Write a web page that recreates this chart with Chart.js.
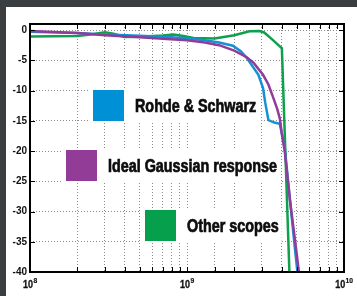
<!DOCTYPE html>
<html><head><meta charset="utf-8">
<script src="https://cdn.jsdelivr.net/npm/chart.js@4.4.1/dist/chart.umd.min.js"></script>
<style>
html,body{margin:0;padding:0;background:#3b3e41;overflow:hidden;}
canvas{display:block;}
</style></head><body>
<canvas id="c" width="357" height="296"></canvas>
<script>
// ---- data (frequency in Hz, response in dB) ----
const seriesNames = ['Rohde & Schwarz', 'Ideal Gaussian response', 'Other scopes'];

const rsFreq = [1e8, 2e8, 3e8, 5e8, 7e8, 1e9, 1.3e9, 1.6e9, 1.96e9, 2.2e9, 2.4e9, 2.85e9, 3.05e9, 3.15e9, 3.3e9, 3.6e9, 3.9e9, 4.2e9, 4.53e9, 4.88e9, 5.06e9];
const rsDb   = [-0.3, -0.5, -0.75, -0.95, -1.1, -1.35, -1.7, -2.05, -2.6, -3.5, -4.6, -7.4, -9.6, -12.0, -14.9, -15.3, -15.5, -19.6, -28.1, -36.4, -40.2];

const gaussFreq = [1e8, 2e8, 3e8, 5e8, 7e8, 1e9, 1.3e9, 1.6e9, 2.0e9, 2.4e9, 2.65e9, 3.05e9, 3.3e9, 3.5e9, 3.75e9, 3.9e9, 4.01e9, 4.2e9, 4.53e9, 4.88e9, 5.18e9];
const gaussDb   = [-0.15, -0.5, -0.85, -1.2, -1.45, -1.7, -2.05, -2.5, -3.4, -4.5, -5.4, -7.4, -9.0, -10.8, -13.0, -14.6, -17.0, -20.2, -28.2, -34.8, -40.3];

const otherFreq = [1e8, 2e8, 2.5e8, 3e8, 3.4e8, 4e8, 5e8, 7e8, 8.2e8, 9.5e8, 1.1e9, 1.5e9, 2.0e9, 2.5e9, 2.9e9, 3.1e9, 3.4e9, 3.9e9, 4.02e9, 4.49e9];
const otherDb   = [-1.05, -1.0, -0.7, -0.35, -0.6, -1.15, -1.1, -0.9, -0.75, -1.0, -1.3, -1.4, -0.85, -0.2, -0.15, -0.4, -1.3, -2.7, -3.0, -40];

const xTickValues = [1e8, 1e9, 1e10];
const xTickBase = '10';
const xTickExponents = ['8', '9', '10'];
const yTickValues = [-40, -35, -30, -25, -20, -15, -10, -5, 0];

// ---- styles / layout ----
const colors = ['#1591d4', '#923c99', '#0ea04d'];
const swatchColors = ['#0090d5', '#933c97', '#06a04c'];
const legendPos = [{x: 93, y: 90}, {x: 66, y: 150}, {x: 145, y: 210}];
const FONT = '"Liberation Sans", Arial, Helvetica, sans-serif';
const NARROW = 0.82;

function pts(f, d) { return f.map((v, i) => ({x: v, y: d[i]})); }

function narrowText(ctx, text, x, y, sx, stroke) {
  ctx.save();
  ctx.translate(x, y);
  ctx.scale(sx, 1);
  ctx.fillText(text, 0, 0);
  if (stroke) { ctx.lineWidth = stroke; ctx.strokeText(text, 0, 0); }
  ctx.restore();
}

const bgPlugin = {
  id: 'bg',
  beforeDraw(chart) {
    const ctx = chart.ctx;
    ctx.save();
    ctx.fillStyle = '#3b3e41';
    ctx.fillRect(0, 0, chart.width, chart.height);
    ctx.fillStyle = '#ffffff';
    ctx.fillRect(6, 7, chart.width - 6, chart.height - 7);
    ctx.restore();
  }
};

const legendPlugin = {
  id: 'boxLegend',
  beforeDatasetsDraw(chart) {
    const ctx = chart.ctx;
    ctx.save();
    ctx.font = 'bold 17.5px ' + FONT;
    ctx.textBaseline = 'alphabetic';
    ctx.textAlign = 'left';
    chart.data.datasets.forEach((ds, i) => {
      const p = legendPos[i];
      const tw = ctx.measureText(ds.label).width * NARROW;
      ctx.fillStyle = '#ffffff';
      ctx.fillRect(p.x - 5, p.y - 1, 42 + tw + 8, 33);
      ctx.fillStyle = swatchColors[i];
      ctx.fillRect(p.x, p.y, 31, 31);
      ctx.fillStyle = '#0d0d0d';
      ctx.strokeStyle = '#0d0d0d';
      narrowText(ctx, ds.label, p.x + 42, p.y + 21.5, NARROW, 0.7);
    });
    ctx.restore();
  }
};

const framePlugin = {
  id: 'frame',
  afterDatasetsDraw(chart) {
    const ctx = chart.ctx;
    const {left, right, top, bottom} = chart.chartArea;
    const xs = chart.scales.x, ys = chart.scales.y;
    ctx.save();
    ctx.strokeStyle = '#000';
    ctx.lineWidth = 1;
    ctx.beginPath();
    xs.ticks.forEach(t => {
      const px = Math.round(xs.getPixelForValue(t.value)) + 0.5;
      ctx.moveTo(px, bottom); ctx.lineTo(px, bottom - 5);
      ctx.moveTo(px, top); ctx.lineTo(px, top + 5);
    });
    ys.ticks.forEach(t => {
      const py = Math.round(ys.getPixelForValue(t.value)) + 0.5;
      ctx.moveTo(left, py); ctx.lineTo(left + 5, py);
      ctx.moveTo(right, py); ctx.lineTo(right - 5, py);
    });
    ctx.stroke();
    ctx.lineWidth = 2;
    ctx.strokeRect(left, top, right - left, bottom - top);

    // x tick labels: "10" with raised exponent
    ctx.fillStyle = '#111';
    ctx.strokeStyle = '#111';
    ctx.textBaseline = 'alphabetic';
    ctx.textAlign = 'left';
    const sx = 0.9;
    xTickValues.forEach((v, i) => {
      const px = xs.getPixelForValue(v);
      ctx.font = 'bold 10px ' + FONT;
      const w1 = ctx.measureText(xTickBase).width * sx;
      ctx.font = 'bold 7.5px ' + FONT;
      const w2 = ctx.measureText(xTickExponents[i]).width * sx;
      const x0 = px - (w1 + w2) / 2;
      ctx.font = 'bold 10px ' + FONT;
      narrowText(ctx, xTickBase, x0, bottom + 16, sx, 0.3);
      ctx.font = 'bold 7.5px ' + FONT;
      narrowText(ctx, xTickExponents[i], x0 + w1 + 0.3, bottom + 11, sx, 0.2);
    });
    ctx.restore();
  }
};

new Chart(document.getElementById('c'), {
  type: 'line',
  data: {
    datasets: [
      {label: seriesNames[0], data: pts(rsFreq, rsDb), borderColor: colors[0], order: 1},
      {label: seriesNames[1], data: pts(gaussFreq, gaussDb), borderColor: colors[1], order: 0},
      {label: seriesNames[2], data: pts(otherFreq, otherDb), borderColor: colors[2], order: 2}
    ]
  },
  options: {
    responsive: false,
    animation: false,
    devicePixelRatio: 1,
    elements: {
      line: {borderWidth: 2.5, tension: 0, fill: false},
      point: {radius: 0, hoverRadius: 0}
    },
    layout: {padding: {top: 24, right: 13, left: 0, bottom: 0}},
    plugins: {legend: {display: false}, tooltip: {enabled: false}},
    scales: {
      x: {
        type: 'logarithmic',
        min: 1e8, max: 1e10,
        afterFit(s) { s.height = 24; },
        grid: {color: '#8a8a8a', lineWidth: 1, drawTicks: false},
        border: {display: false, dash: [1, 2]},
        ticks: {display: false, autoSkip: false, maxRotation: 0}
      },
      y: {
        min: -40, max: 1,
        afterFit(s) { s.width = 30; },
        afterBuildTicks(s) { s.ticks = yTickValues.map(v => ({value: v})); },
        grid: {color: '#8a8a8a', lineWidth: 1, drawTicks: false},
        border: {display: false, dash: [1, 2]},
        ticks: {
          padding: 3, color: '#111',
          font: {family: FONT, weight: 'bold', size: 10},
          callback(v) { return String(v); }
        }
      }
    }
  },
  plugins: [bgPlugin, legendPlugin, framePlugin]
});
</script>
</body></html>
